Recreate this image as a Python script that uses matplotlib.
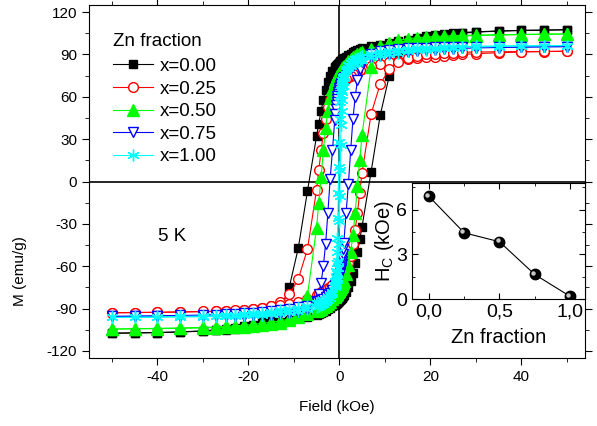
import matplotlib
matplotlib.use("Agg")
import matplotlib.pyplot as plt
from matplotlib.ticker import MultipleLocator, FixedLocator
from matplotlib import transforms

plt.rcParams['font.family'] = ['Liberation Sans', 'DejaVu Sans']
plt.rcParams['axes.unicode_minus'] = False

# campo (kOe), rama descendente (50 -> -50) y ascendente (-50 -> 50)
field_down = [50, 45, 40, 35, 30, 27, 25, 23, 21, 19, 17, 15, 13, 11, 9, 7,
              5, 4.5, 4, 3.5, 3, 2.5, 2, 1.5,
              1, 0.9, 0.8, 0.7, 0.6, 0.5, 0.4, 0.3, 0.2, 0.1, 0, -0.1, -0.2, -0.3, -0.4, -0.5, -0.6, -0.7, -0.8, -0.9, -1,
              -1.5, -2, -2.5, -3, -3.5, -4, -4.5, -5,
              -7, -9, -11, -13, -15, -17, -19, -21, -23, -25, -27,
              -30, -35, -40, -45, -50]
field_up = [-50, -45, -40, -35, -30, -27, -25, -23, -21, -19, -17, -15, -13, -11, -9, -7,
            -5, -4.5, -4, -3.5, -3, -2.5, -2, -1.5,
            -1, -0.9, -0.8, -0.7, -0.6, -0.5, -0.4, -0.3, -0.2, -0.1, 0, 0.1, 0.2, 0.3, 0.4, 0.5, 0.6, 0.7, 0.8, 0.9, 1,
            1.5, 2, 2.5, 3, 3.5, 4, 4.5, 5,
            7, 9, 11, 13, 15, 17, 19, 21, 23, 25, 27,
            30, 35, 40, 45, 50]

# M (emu/g) para cada fraccion de Zn
m00_down = [107.5, 107.2, 107, 106.6, 106, 105.5, 105, 104.3, 103.6, 102.8, 101.8, 100.5, 99.2, 98, 97, 96,
            94.5, 94, 93.2, 92.4, 91.6, 90.6, 89.6, 88.5,
            87.3, 87, 86.8, 86.5, 86.2, 85.9, 85.6, 85.3, 85, 84.6, 84.2, 83.9, 83.5, 83.2, 82.8, 82.5, 82.1, 81.7, 81.3, 80.9, 80.5,
            78, 74.5, 70.5, 65, 58, 50, 41, 32,
            -7, -47, -75, -92, -97, -99.5, -101.3, -102.5, -103.5, -104.3, -105,
            -105.8, -106.5, -107, -107.2, -107.5]
m00_up = [-107.5, -107.2, -107, -106.6, -106, -105.5, -105, -104.3, -103.6, -102.8, -101.8, -100.5, -99.2, -98, -97, -96,
          -94.5, -94, -93.2, -92.4, -91.6, -90.6, -89.6, -88.5,
          -87.3, -87, -86.8, -86.5, -86.2, -85.9, -85.6, -85.3, -85, -84.6, -84.2, -83.9, -83.5, -83.2, -82.8, -82.5, -82.1, -81.7, -81.3, -80.9, -80.5,
          -78, -74.5, -70.5, -65, -58, -50, -41, -32,
          7, 47, 75, 92, 97, 99.5, 101.3, 102.5, 103.5, 104.3, 105,
          105.8, 106.5, 107, 107.2, 107.5]

m25_down = [92.3, 92, 91.7, 91.2, 90.5, 90, 89.5, 89, 88.5, 88, 87.3, 86.5, 85.5, 84.5, 83, 81.5,
            79.5, 79, 78, 77, 76, 75, 74, 72.5,
            71, 70.7, 70.4, 70.1, 69.8, 69.5, 69.2, 68.9, 68.6, 68.3, 68, 67.7, 67.4, 67.1, 66.8, 66.5, 66.1, 65.7, 65.3, 64.9, 64.5,
            61.5, 57.5, 52.5, 44, 34, 22, 8, -6,
            -48, -69, -80, -85, -88, -89.5, -90.5, -91, -91.5, -91.8, -92,
            -92.2, -92.5, -92.7, -92.8, -93]
m25_up = [-93, -92.8, -92.6, -92.3, -92, -91.8, -91.5, -91.2, -90.7, -90, -89.3, -88.5, -87.5, -86.5, -85, -83.5,
          -80.5, -79.5, -78.5, -77.5, -76.5, -75.5, -74.5, -73,
          -71.5, -71.1, -70.8, -70.5, -70.2, -69.9, -69.6, -69.3, -69, -68.7, -68.4, -68.1, -67.8, -67.5, -67.2, -66.8, -66.4, -66, -65.6, -65.2, -64.8,
          -61.8, -57.8, -52.5, -44, -34, -22, -8, 6,
          48, 69, 79.5, 84.5, 87.5, 89, 90, 90.6, 91, 91.3, 91.5,
          91.7, 91.9, 92, 92.1, 92.2]

m50_down = [104.5, 104.3, 104, 103.7, 103.3, 103, 102.6, 102.2, 101.7, 101.2, 100.5, 99.7, 98.7, 97.5, 96, 94,
            91.5, 90.8, 90, 89, 88, 86.7, 85.3, 83.5,
            81.5, 81, 80.6, 80.1, 79.7, 79.2, 78.7, 78.2, 77.7, 77.2, 76.7, 76.2, 75.6, 75, 74.4, 73.8, 73.1, 72.4, 71.7, 71, 70.2,
            65.5, 59, 50, 38, 22, 3, -15, -33,
            -81, -94, -98, -100, -101, -101.8, -102.3, -102.7, -103, -103.3, -103.5,
            -103.7, -104, -104.2, -104.3, -104.5]
m50_up = [-104.5, -104.3, -104, -103.7, -103.3, -103, -102.6, -102.2, -101.7, -101.2, -100.5, -99.7, -98.7, -97.5, -96, -94,
          -91.5, -90.8, -90, -89, -88, -86.7, -85.3, -83.5,
          -81.5, -81, -80.6, -80.1, -79.7, -79.2, -78.7, -78.2, -77.7, -77.2, -76.7, -76.2, -75.6, -75, -74.4, -73.8, -73.1, -72.4, -71.7, -71, -70.2,
          -65.5, -59, -50, -38, -22, -3, 15, 33,
          81, 94, 98, 100, 101, 101.8, 102.3, 102.7, 103, 103.3, 103.5,
          103.7, 104, 104.2, 104.3, 104.5]

m75_down = [95.5, 95.3, 95.1, 94.9, 94.6, 94.3, 94, 93.7, 93.3, 92.9, 92.4, 91.8, 91, 90.2, 89.2, 88,
            85.5, 84.8, 84, 83, 81.8, 80.5, 79, 77,
            73.7, 73.1, 72.5, 71.9, 71.2, 70.5, 69.7, 68.9, 68, 67, 66, 65, 63.7, 62.2, 60.5, 58.5, 56.3, 54, 51.3, 47.5, 43.5,
            22, 2, -22, -44, -60, -72, -80, -84.5,
            -90, -92.3, -93.3, -93.9, -94.3, -94.6, -94.8, -95, -95.1, -95.2, -95.3,
            -95.4, -95.5, -95.5, -95.6, -95.6]
m75_up = [-95.5, -95.3, -95.1, -94.9, -94.6, -94.3, -94, -93.7, -93.3, -92.9, -92.4, -91.8, -91, -90.2, -89.2, -88,
          -85.5, -84.8, -84, -83, -81.8, -80.5, -79, -77,
          -73.7, -73.1, -72.5, -71.9, -71.2, -70.5, -69.7, -68.9, -68, -67, -66, -65, -63.7, -62.2, -60.5, -58.5, -56.3, -54, -51.3, -47.5, -43.5,
          -22, -2, 22, 44, 60, 72, 80, 84.5,
          90, 92.3, 93.3, 93.9, 94.3, 94.6, 94.8, 95, 95.1, 95.2, 95.3,
          95.4, 95.5, 95.5, 95.6, 95.6]

m100_down = [96.3, 96.1, 95.9, 95.6, 95.3, 95, 94.7, 94.3, 93.9, 93.4, 92.8, 92.1, 91.3, 90.4, 89.3, 88,
             86.3, 85.7, 85, 84.2, 83.2, 82, 80.5, 78.3,
             75, 74.1, 73, 71.6, 70, 68, 65, 61.5, 56, 44, 28, 10, -8, -26, -40, -50, -58, -63.5, -67.5, -70.5, -73,
             -79.5, -82.3, -84.2, -85.5, -86.5, -87.3, -88, -88.6,
             -90.3, -91.5, -92.5, -93.2, -93.8, -94.2, -94.6, -94.9, -95.2, -95.4, -95.6,
             -95.8, -96, -96.1, -96.2, -96.3]
m100_up = [-96.3, -96.1, -95.9, -95.6, -95.3, -95, -94.7, -94.3, -93.9, -93.4, -92.8, -92.1, -91.3, -90.4, -89.3, -88,
           -86.3, -85.7, -85, -84.2, -83.2, -82, -80.5, -78.3,
           -75, -74.1, -73, -71.6, -70, -68, -65, -61.5, -56, -44, -28, -10, 8, 26, 40, 50, 58, 63.5, 67.5, 70.5, 73,
           79.5, 82.3, 84.2, 85.5, 86.5, 87.3, 88, 88.6,
           90.3, 91.5, 92.5, 93.2, 93.8, 94.2, 94.6, 94.9, 95.2, 95.4, 95.6,
           95.8, 96, 96.1, 96.2, 96.3]

labels = ['x=0.00', 'x=0.25', 'x=0.50', 'x=0.75', 'x=1.00']

# inset: campo coercitivo
zn = [0.0, 0.25, 0.5, 0.75, 1.0]
hc = [6.9, 4.45, 3.85, 1.65, 0.18]

series = [
    (m00_down, m00_up, dict(color='black', marker='s', ms=6, mfc='black')),
    (m25_down, m25_up, dict(color='#ff0000', marker='o', ms=7, mfc='white')),
    (m50_down, m50_up, dict(color='#00ff00', marker='^', ms=8, mfc='#00ff00')),
    (m75_down, m75_up, dict(color='#0000ff', marker='v', ms=7.5, mfc='white')),
    (m100_down, m100_up, dict(color='#00ffff', marker=(6, 2, 0), ms=8.5, mfc='#00ffff', mew=1.0)),
]

fig = plt.figure(figsize=(5.97, 4.26), dpi=100)
ax = fig.add_axes([89/597, 1 - 358/426, 496/597, 353/426])

ax.axhline(0, color='black', lw=1.2, zorder=1)
ax.axvline(0, color='black', lw=1.2, zorder=1)

for (md, mu, st), lab in zip(series, labels):
    ax.plot(field_down, md, lw=0.8, label=lab, **st)
    ax.plot(field_up, mu, lw=0.8, **st)

ax.set_xlim(-55, 54)
ax.set_ylim(-125, 125)
ax.xaxis.set_major_locator(FixedLocator([-40, -20, 0, 20, 40]))
ax.xaxis.set_minor_locator(MultipleLocator(10))
ax.yaxis.set_major_locator(MultipleLocator(30))
ax.yaxis.set_minor_locator(MultipleLocator(15))
ax.tick_params(which='both', direction='out', labelsize=11, top=True, right=True)
ax.tick_params(which='major', length=5)
ax.tick_params(which='minor', length=3)
ax.set_xlabel('Field (kOe)', fontsize=11, labelpad=12)
ax.set_ylabel('M (emu/g)', fontsize=11)
ax.yaxis.set_label_coords(-0.124, 0.245)

leg = ax.legend(title='Zn fraction', loc='upper left', bbox_to_anchor=(0.048, 0.922),
                frameon=False, fontsize=13.5, title_fontsize=13.5, handlelength=2.13,
                handletextpad=0.37, labelspacing=0.29, borderpad=0, borderaxespad=0,
                alignment='left')
leg._legend_box.sep = 6

ax.text(0.139, 0.343, '5 K', transform=ax.transAxes, fontsize=13.5, va='center', ha='left')

# inset
axi = fig.add_axes([412/597, 1 - 299/426, 173/597, 116/426])
axi.plot(zn, hc, color='black', lw=0.8, marker='o', ms=7.5, mfc='black', mec='black')
hl = transforms.offset_copy(axi.transData, fig=fig, x=-1.3, y=1.3, units='points')
axi.plot(zn, hc, ls='none', marker='o', ms=2.2, color='#c8c8c8', transform=hl)
axi.set_xlim(-0.12, 1.106)
axi.set_ylim(0, 7.8)
axi.xaxis.set_major_locator(FixedLocator([0, 0.5, 1.0]))
axi.xaxis.set_minor_locator(MultipleLocator(0.25))
axi.yaxis.set_major_locator(FixedLocator([0, 3, 6]))
axi.yaxis.set_minor_locator(MultipleLocator(1.5))
axi.set_xticklabels(['0,0', '0,5', '1,0'])
axi.tick_params(which='both', direction='in', labelsize=14, top=True, right=True)
axi.tick_params(which='major', length=4)
axi.tick_params(which='minor', length=2.5)
axi.set_xlabel('Zn fraction', fontsize=14.5, labelpad=5)
axi.set_ylabel('H$_\\mathregular{C}$ (kOe)', fontsize=14.5, labelpad=0)

fig.savefig('out.png', dpi=100)
